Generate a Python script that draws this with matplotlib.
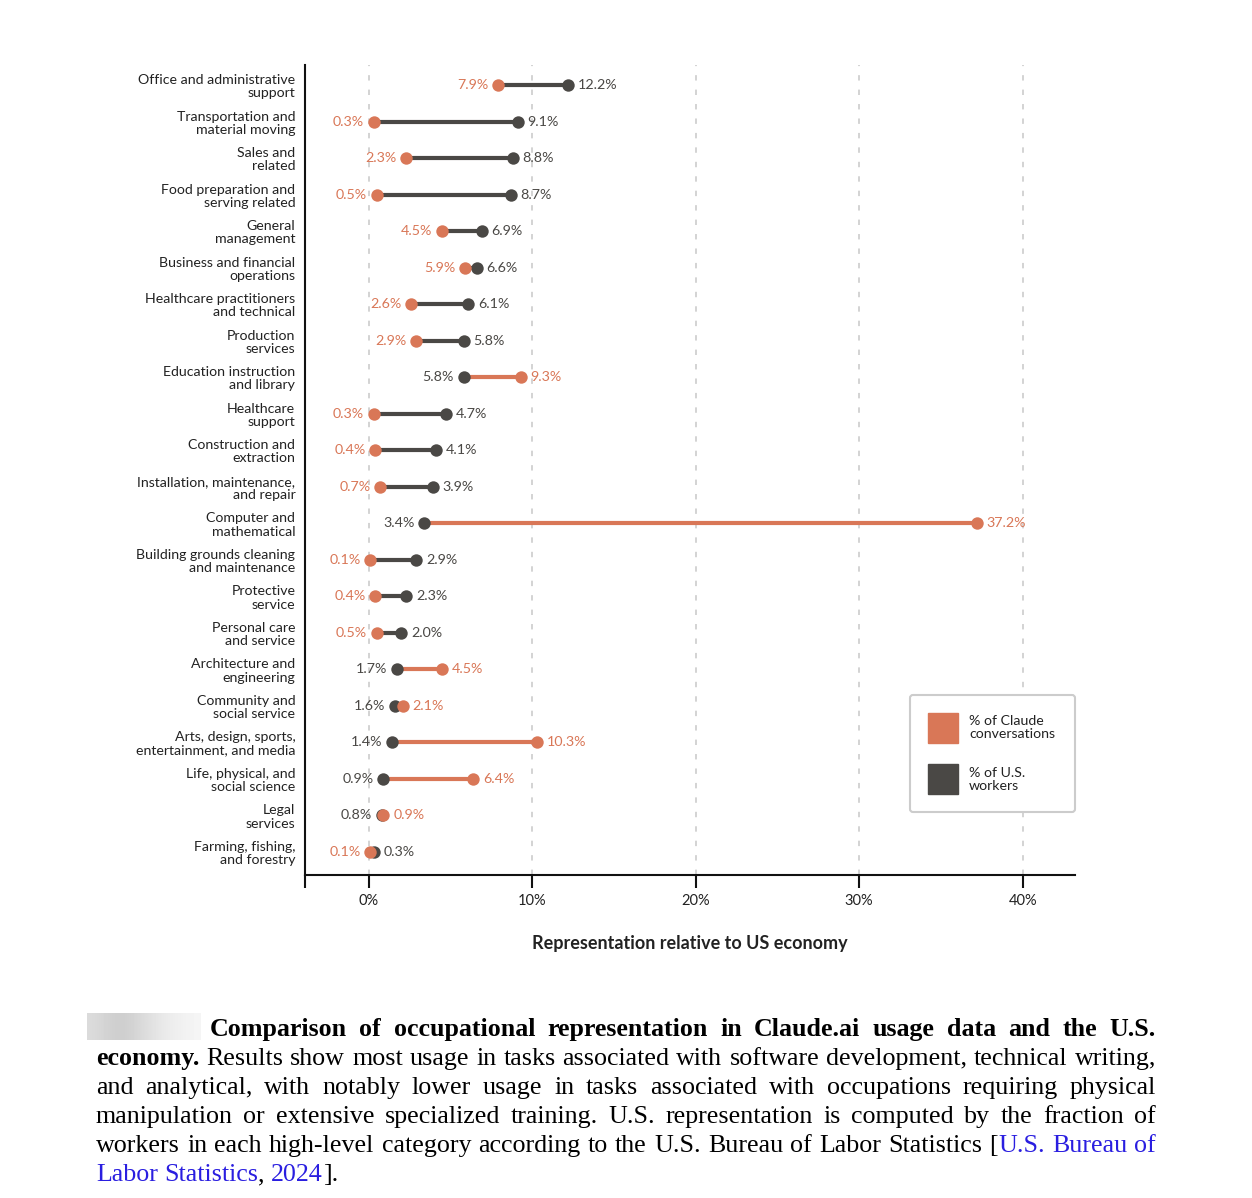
import numpy as np
import matplotlib.pyplot as plt
from matplotlib.lines import Line2D

# occupational categories, top to bottom
categories = [
    'Office and administrative\nsupport',
    'Transportation and\nmaterial moving',
    'Sales and\nrelated',
    'Food preparation and\nserving related',
    'General\nmanagement',
    'Business and financial\noperations',
    'Healthcare practitioners\nand technical',
    'Production\nservices',
    'Education instruction\nand library',
    'Healthcare\nsupport',
    'Construction and\nextraction',
    'Installation, maintenance,\nand repair',
    'Computer and\nmathematical',
    'Building grounds cleaning\nand maintenance',
    'Protective\nservice',
    'Personal care\nand service',
    'Architecture and\nengineering',
    'Community and\nsocial service',
    'Arts, design, sports,\nentertainment, and media',
    'Life, physical, and\nsocial science',
    'Legal\nservices',
    'Farming, fishing,\nand forestry',
]
claude = [7.9, 0.3, 2.3, 0.5, 4.5, 5.9, 2.6, 2.9, 9.3, 0.3, 0.4, 0.7, 37.2,
          0.1, 0.4, 0.5, 4.5, 2.1, 10.3, 6.4, 0.9, 0.1]
workers = [12.2, 9.1, 8.8, 8.7, 6.9, 6.6, 6.1, 5.8, 5.8, 4.7, 4.1, 3.9, 3.4,
           2.9, 2.3, 2.0, 1.7, 1.6, 1.4, 0.9, 0.8, 0.3]
xticks = [0, 10, 20, 30, 40]
xtick_labels = ['0%', '10%', '20%', '30%', '40%']
legend_labels = ['% of Claude\nconversations', '% of U.S.\nworkers']

ORANGE = '#D97757'
GRAY = '#4A4845'
TXT = '#222222'

plt.rcParams['font.family'] = ['Lato', 'DejaVu Sans']

W, H = 1252, 1198
fig = plt.figure(figsize=(W / 100, H / 100), dpi=100)
ax = fig.add_axes([305 / W, 323 / H, 770 / W, 810 / H])

y = np.arange(len(categories))

# connectors: colour of the larger value
for i in range(len(categories)):
    c, u = claude[i], workers[i]
    ax.plot([c, u], [i, i], color=ORANGE if c > u else GRAY, lw=3,
            solid_capstyle='butt', zorder=2)
ax.scatter(workers, y, s=80, color=GRAY, zorder=3, linewidths=0)
ax.scatter(claude, y, s=80, color=ORANGE, zorder=4, linewidths=0)

# value labels
for i in range(len(categories)):
    c, u = claude[i], workers[i]
    oc = -7 if c < u else 7
    ax.annotate(f'{c:.1f}%', (c, i), xytext=(oc, 0), textcoords='offset points',
                ha='right' if oc < 0 else 'left', va='center', color=ORANGE,
                fontsize=10.3, zorder=5)
    ax.annotate(f'{u:.1f}%', (u, i), xytext=(-oc, 0), textcoords='offset points',
                ha='left' if oc < 0 else 'right', va='center', color=GRAY,
                fontsize=10.3, zorder=5)

# dashed grid
for t in xticks:
    ax.axvline(t, color='#d0d0d0', lw=1.3, ls=(0, (3, 5)), zorder=0)

xmin, xmax = -3.9, 43.2
ax.set_xlim(xmin, xmax)
ax.set_ylim(21.63, -0.55)

for s in ['top', 'right']:
    ax.spines[s].set_visible(False)
for s in ['left', 'bottom']:
    ax.spines[s].set_linewidth(1.5)
    ax.spines[s].set_color('#111111')

ax.set_xticks([xmin] + xticks, [''] + xtick_labels)
ax.tick_params(axis='x', length=9, width=1.5, pad=5, labelsize=10.5,
               labelcolor=TXT, color='#111111')
ax.set_yticks(y, categories)
ax.tick_params(axis='y', length=0, pad=7, labelsize=10.2, labelcolor=TXT)
for lbl in ax.get_yticklabels():
    lbl.set_linespacing(1.12)

ax.set_xlabel('Representation relative to US economy', fontsize=13,
              fontweight='bold', color=TXT, labelpad=19)

handles = [Line2D([], [], marker='s', ls='none', ms=21, color=ORANGE),
           Line2D([], [], marker='s', ls='none', ms=21, color=GRAY)]
leg = ax.legend(handles, legend_labels, loc='lower right',
                bbox_to_anchor=(1.0, 63 / 810), borderaxespad=0,
                fontsize=10.2, borderpad=1.4, labelspacing=1.85,
                handletextpad=0.9, handlelength=1.9, framealpha=1)
leg.get_frame().set_edgecolor('#cccccc')
leg.get_frame().set_linewidth(1.5)
for t in leg.get_texts():
    t.set_color(TXT)
    t.set_linespacing(1.15)

# caption
bax = fig.add_axes([87 / W, 1 - 1040 / H, 113 / W, 27 / H])
bax.imshow([[0.86, 0.82, 0.8, 0.84, 0.88, 0.92, 0.94, 0.96]], cmap='gray',
           vmin=0, vmax=1, aspect='auto', interpolation='bicubic')
bax.axis('off')

BLUE = '#2a1ee0'
cap_lines = [
    [('Comparison of occupational representation in Claude.ai usage data and the U.S.', 'bold', 'black')],
    [('economy.', 'bold', 'black'),
     (' Results show most usage in tasks associated with software development, technical writing,', 'normal', 'black')],
    [('and analytical, with notably lower usage in tasks associated with occupations requiring physical', 'normal', 'black')],
    [('manipulation or extensive specialized training. U.S. representation is computed by the fraction of', 'normal', 'black')],
    [('workers in each high-level category according to the U.S. Bureau of Labor Statistics [', 'normal', 'black'),
     ('U.S. Bureau of', 'normal', BLUE)],
    [('Labor Statistics', 'normal', BLUE), (', ', 'normal', 'black'),
     ('2024', 'normal', BLUE), ('].', 'normal', 'black')],
]
renderer = fig.canvas.get_renderer()
cap_size = 17.3


def text_width(txt, weight):
    t = fig.text(0, 0, txt, fontsize=cap_size, family='Liberation Serif', weight=weight)
    w = t.get_window_extent(renderer).width
    t.remove()
    return w


def words_of(segs):
    words, cur = [], []
    for text, weight, col in segs:
        for j, p in enumerate(text.split(' ')):
            if j > 0 and cur:
                words.append(cur)
                cur = []
            if p:
                cur.append((p, weight, col))
    if cur:
        words.append(cur)
    return words


x_right = 1156
# scale the caption font so the widest line fits with plain spaces
natural = []
for li, segs in enumerate(cap_lines[:-1]):
    x0 = 210 if li == 0 else 96
    txt_w = sum(text_width(p, w) for wd in words_of(segs) for p, w, c in wd)
    sp = text_width('a a', 'normal') - text_width('aa', 'normal')
    natural.append((txt_w + sp * (len(words_of(segs)) - 1)) / (x_right - x0))
cap_size = cap_size / max(natural) * 0.995

space_w = text_width('a a', 'normal') - text_width('aa', 'normal')
for li, segs in enumerate(cap_lines):
    x0 = 210 if li == 0 else 96
    base = 1036 + 29 * li
    words = words_of(segs)
    widths = [[text_width(p, w) for p, w, c in wd] for wd in words]
    total = sum(sum(ws) for ws in widths)
    if li == len(cap_lines) - 1:
        gap = space_w
    else:
        gap = (x_right - x0 - total) / (len(words) - 1)
    x = x0
    for wd, ws in zip(words, widths):
        for (p, w, c), pw in zip(wd, ws):
            fig.text(x / W, 1 - base / H, p, fontsize=cap_size, family='Liberation Serif',
                     weight=w, color=c, va='baseline', ha='left')
            x += pw
        x += gap

fig.savefig('out.png', dpi=100, facecolor='white')
